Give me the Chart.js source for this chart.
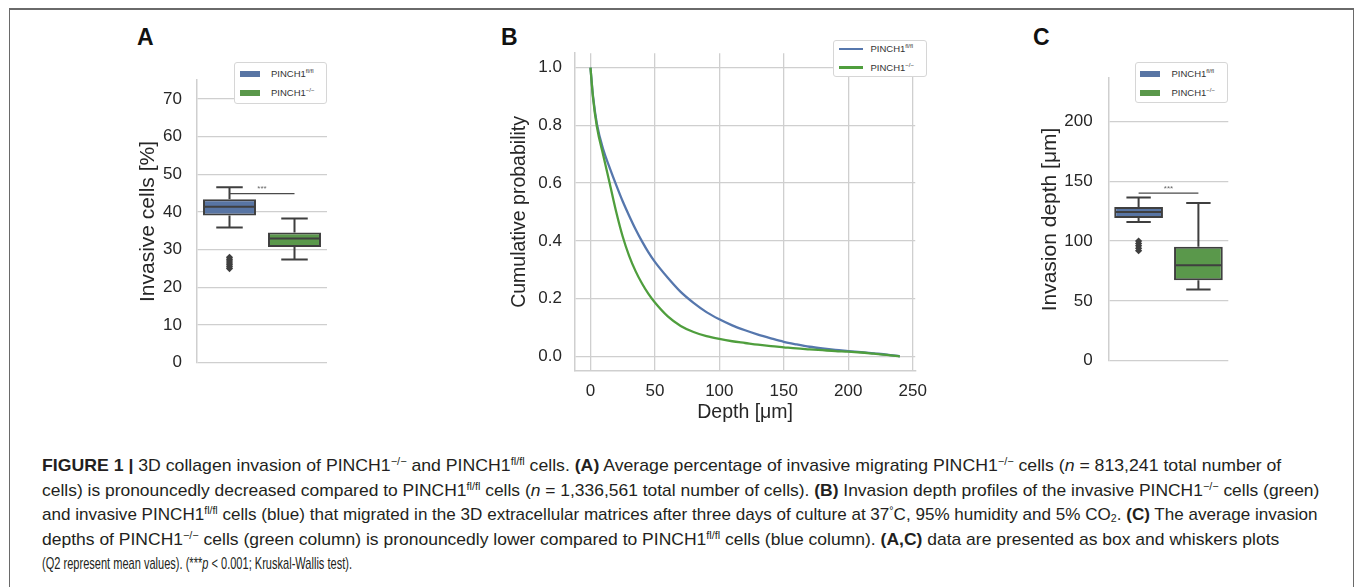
<!DOCTYPE html>
<html>
<head>
<meta charset="utf-8">
<script src="https://cdn.jsdelivr.net/npm/chart.js@4.4.0/dist/chart.umd.min.js"></script>
<style>
html,body{margin:0;padding:0;background:#fff;width:1355px;height:587px;overflow:hidden;font-family:"Liberation Sans",Arial,sans-serif;}
.frame{position:absolute;left:9px;top:8px;width:1345px;height:620px;border-top:2px solid #6a6a6a;border-left:1.5px solid #6a6a6a;border-right:1.5px solid #6a6a6a;box-sizing:border-box;}
canvas{position:absolute;}
.letter{position:absolute;font-weight:bold;font-size:23px;line-height:23px;color:#111;}
.legend{position:absolute;border:1px solid #d6d6d6;border-radius:3px;background:#fff;box-sizing:border-box;}
.legend .patch{position:absolute;width:20px;height:6px;}
.legend .ln{position:absolute;width:24px;height:2.3px;}
.legend .txt{position:absolute;font-size:9.5px;line-height:12px;color:#333;white-space:nowrap;}
.legend sup{font-size:6px;vertical-align:4px;line-height:0;}
.cap{position:absolute;left:42px;font-family:"Liberation Sans",Arial,sans-serif;font-size:17px;line-height:20px;color:#231f20;white-space:nowrap;transform-origin:0 50%;}
.cap sup{font-size:0.62em;vertical-align:0.55em;line-height:0;}
.cap sub{font-size:0.62em;vertical-align:-0.2em;line-height:0;}
</style>
</head>
<body>
<div class="frame"></div>
<div class="letter" style="left:137px;top:26px;">A</div>
<div class="letter" style="left:501px;top:26px;">B</div>
<div class="letter" style="left:1033px;top:26px;">C</div>

<canvas id="chartA" width="220" height="333" style="left:120px;top:55px;width:220px;height:333px;"></canvas>
<canvas id="chartB" width="437" height="404" style="left:500px;top:30px;width:437px;height:404px;"></canvas>
<canvas id="chartC" width="215" height="335" style="left:1025px;top:52px;width:215px;height:335px;"></canvas>

<div id="legA" class="legend" style="left:234px;top:62px;width:93px;height:42px;"></div>
<div id="legB" class="legend" style="left:833px;top:40px;width:94px;height:37px;"></div>
<div id="legC" class="legend" style="left:1135px;top:62px;width:93px;height:41px;"></div>

<div class="cap" style="top:456px;"><b>FIGURE 1 |</b> 3D collagen invasion of PINCH1<sup>−/−</sup> and PINCH1<sup>fl/fl</sup> cells. <b>(A)</b> Average percentage of invasive migrating PINCH1<sup>−/−</sup> cells (<i>n</i> = 813,241 total number of</div>
<div class="cap" style="top:481px;">cells) is pronouncedly decreased compared to PINCH1<sup>fl/fl</sup> cells (<i>n</i> = 1,336,561 total number of cells). <b>(B)</b> Invasion depth profiles of the invasive PINCH1<sup>−/−</sup> cells (green)</div>
<div class="cap" style="top:505px;">and invasive PINCH1<sup>fl/fl</sup> cells (blue) that migrated in the 3D extracellular matrices after three days of culture at 37<sup>°</sup>C, 95% humidity and 5% CO<sub>2</sub>. <b>(C)</b> The average invasion</div>
<div class="cap" style="top:530px;">depths of PINCH1<sup>−/−</sup> cells (green column) is pronouncedly lower compared to PINCH1<sup>fl/fl</sup> cells (blue column). <b>(A,C)</b> data are presented as box and whiskers plots</div>
<div class="cap" style="top:554px;">(Q2 represent mean values). (***<i>p</i> &lt; 0.001; Kruskal-Wallis test).</div>

<script>
// ---------- DATA ----------
const groups = ['PINCH1fl/fl', 'PINCH1−/−'];
const groupBase = ['PINCH1', 'PINCH1'];
const groupSup = ['fl/fl', '−/−'];

// Panel A: invasive cells [%]
const invLow    = [35.9, 27.4];
const invQ1     = [39.1, 30.7];
const invMedian = [41.4, 33.0];
const invQ3     = [43.4, 34.6];
const invHigh   = [46.6, 38.3];
const invOutliersFl = [25.0, 25.5, 26.0, 26.5, 27.0, 27.5, 28.0];
const invOutliersKo = [];
const invSig = 44.9;
const invTicks = [0, 10, 20, 30, 40, 50, 60, 70];

// Panel B: cumulative probability vs depth [µm]
const depth   = [0, 2, 5, 10, 15, 20, 25, 30, 35, 40, 45, 50, 60, 70, 80, 90, 100, 110, 120, 130, 140, 150, 160, 170, 180, 190, 200, 210, 220, 230, 240];
const cumFl   = [1.0, 0.90, 0.805, 0.715, 0.652, 0.593, 0.537, 0.487, 0.44, 0.398, 0.36, 0.327, 0.272, 0.223, 0.185, 0.153, 0.128, 0.107, 0.09, 0.075, 0.062, 0.05, 0.041, 0.033, 0.027, 0.022, 0.018, 0.014, 0.01, 0.006, 0.0];
const cumKo   = [1.0, 0.895, 0.795, 0.695, 0.598, 0.50, 0.415, 0.348, 0.295, 0.252, 0.216, 0.186, 0.138, 0.105, 0.084, 0.07, 0.06, 0.052, 0.046, 0.04, 0.035, 0.031, 0.027, 0.024, 0.021, 0.018, 0.016, 0.013, 0.009, 0.005, 0.0];
const depthTicks = [0, 50, 100, 150, 200, 250];
const probTicks  = [0, 0.2, 0.4, 0.6, 0.8, 1.0];

// Panel C: invasion depth [µm]
const depLow    = [116.0, 59.6];
const depQ1     = [119.3, 67.2];
const depMedian = [124.2, 79.8];
const depQ3     = [128.4, 95.2];
const depHigh   = [136.3, 131.7];
const depOutliersFl = [92, 94, 96, 98, 100];
const depOutliersKo = [];
const depSig = 140;
const depTicks = [0, 50, 100, 150, 200];

// ---------- STYLE ----------
const BLUE_BOX = '#5875a4', GREEN_BOX = '#5a984b';
const BLUE_LINE = '#5677ad', GREEN_LINE = '#4f9e3d';
const EDGE = '#3f3f3f', GRID = '#cfcfcf', TXT = '#262626';
Chart.defaults.font.family = '"Liberation Sans", Arial, sans-serif';
Chart.defaults.color = TXT;

function boxPlugin(stats) {
  return {
    id: 'boxParts',
    afterDatasetsDraw(chart) {
      const ctx = chart.ctx, ys = chart.scales.y;
      const p = v => ys.getPixelForValue(v);
      const centers = [];
      ctx.save();
      ctx.strokeStyle = EDGE; ctx.lineWidth = 2; ctx.lineCap = 'butt';
      for (let i = 0; i < stats.q1.length; i++) {
        const el = chart.getDatasetMeta(i).data[i];
        const x = el.x, w = el.width;
        centers.push(x);
        ctx.beginPath();
        ctx.moveTo(x, p(stats.q3[i])); ctx.lineTo(x, p(stats.high[i]));
        ctx.moveTo(x, p(stats.q1[i])); ctx.lineTo(x, p(stats.low[i]));
        ctx.moveTo(x - w / 4, p(stats.high[i])); ctx.lineTo(x + w / 4, p(stats.high[i]));
        ctx.moveTo(x - w / 4, p(stats.low[i])); ctx.lineTo(x + w / 4, p(stats.low[i]));
        ctx.moveTo(x - w / 2 + 1, p(stats.med[i])); ctx.lineTo(x + w / 2 - 1, p(stats.med[i]));
        ctx.stroke();
      }
      const sy = p(stats.sig);
      ctx.lineWidth = 1.2; ctx.strokeStyle = '#4a4a4a';
      ctx.beginPath(); ctx.moveTo(centers[0], sy); ctx.lineTo(centers[1], sy); ctx.stroke();
      ctx.fillStyle = '#666'; ctx.font = '8px "Liberation Sans", Arial'; ctx.textAlign = 'center'; ctx.textBaseline = 'bottom';
      ctx.fillText('***', (centers[0] + centers[1]) / 2, sy - 0.5);
      ctx.restore();
    }
  };
}

function boxChart(id, st, cfg) {
  const boxDs = (i, color) => ({
    type: 'bar', label: groups[i],
    data: groups.map((g, j) => j === i ? [st.q1[j], st.q3[j]] : null),
    backgroundColor: color, borderColor: EDGE, borderWidth: 2, borderSkipped: false,
    grouped: false, barPercentage: 0.815, categoryPercentage: 1, order: 2
  });
  const outDs = (i, vals) => ({
    type: 'line', label: groups[i] + ' outliers', showLine: false,
    data: vals.map(v => ({ x: groups[i], y: v })),
    pointStyle: 'rectRot', pointRadius: 3.6, backgroundColor: EDGE, borderColor: EDGE, borderWidth: 0, order: 0
  });
  return new Chart(document.getElementById(id), {
    type: 'bar',
    data: { labels: groups, datasets: [boxDs(0, BLUE_BOX), boxDs(1, GREEN_BOX), outDs(0, st.outFl), outDs(1, st.outKo)] },
    options: {
      responsive: false, animation: false, events: [],
      layout: { padding: cfg.pad },
      plugins: { legend: { display: false }, tooltip: { enabled: false } },
      scales: {
        x: { type: 'category', display: false, offset: true },
        y: {
          min: cfg.min, max: cfg.max,
          afterBuildTicks: s => { s.ticks = cfg.ticks.map(v => ({ value: v })); },
          afterFit: s => { s.width = cfg.yWidth; },
          grid: { color: GRID, lineWidth: 1.3, drawTicks: false },
          border: { color: GRID, width: 1.5 },
          ticks: { padding: cfg.tickPad, color: TXT, font: { size: 17 } },
          title: { display: true, text: cfg.title, color: TXT, font: { size: 21 }, padding: { top: 4, bottom: 4 } }
        }
      }
    },
    plugins: [boxPlugin(st)]
  });
}

boxChart('chartA',
  { low: invLow, q1: invQ1, med: invMedian, q3: invQ3, high: invHigh, outFl: invOutliersFl, outKo: invOutliersKo, sig: invSig },
  { pad: { left: 11.4, right: 13, top: 17, bottom: 15 }, yWidth: 65.6, min: 0, max: 75, ticks: invTicks, tickPad: 15, title: 'Invasive cells [%]' });

boxChart('chartC',
  { low: depLow, q1: depQ1, med: depMedian, q3: depQ3, high: depHigh, outFl: depOutliersFl, outKo: depOutliersKo, sig: depSig },
  { pad: { left: 8.4, right: 11.7, top: 18, bottom: 15.3 }, yWidth: 75.3, min: 0, max: 236, ticks: depTicks, tickPad: 16, title: 'Invasion depth [μm]' });

new Chart(document.getElementById('chartB'), {
  type: 'line',
  data: {
    datasets: [
      { label: groups[0], data: depth.map((d, i) => ({ x: d, y: cumFl[i] })), borderColor: BLUE_LINE, borderWidth: 2.3, pointRadius: 0, cubicInterpolationMode: 'monotone', fill: false, order: 1 },
      { label: groups[1], data: depth.map((d, i) => ({ x: d, y: cumKo[i] })), borderColor: GREEN_LINE, borderWidth: 2.3, pointRadius: 0, cubicInterpolationMode: 'monotone', fill: false, order: 0 }
    ]
  },
  options: {
    responsive: false, animation: false, events: [],
    layout: { padding: { left: 4.3, right: 20.3, top: 16.5, bottom: 5.3 } },
    plugins: { legend: { display: false }, tooltip: { enabled: false } },
    scales: {
      x: {
        type: 'linear', min: -12, max: 252,
        afterBuildTicks: s => { s.ticks = depthTicks.map(v => ({ value: v })); },
        afterFit: s => { s.height = 58; },
        grid: { color: GRID, lineWidth: 1.3, drawTicks: false },
        border: { color: GRID, width: 1.5 },
        ticks: { padding: 10, color: TXT, font: { size: 17 } },
        title: { display: true, text: 'Depth [μm]', color: TXT, font: { size: 19.5 }, padding: { top: 4, bottom: 4 } }
      },
      y: {
        min: -0.05, max: 1.05,
        afterBuildTicks: s => { s.ticks = probTicks.map(v => ({ value: v })); },
        afterFit: s => { s.width = 70.7; },
        grid: { color: GRID, lineWidth: 1.3, drawTicks: false },
        border: { color: GRID, width: 1.5 },
        ticks: { padding: 13, color: TXT, font: { size: 17 }, callback: v => Number(v).toFixed(1) },
        title: { display: true, text: 'Cumulative probability', color: TXT, font: { size: 19.5 }, padding: { top: 4, bottom: 4 } }
      }
    }
  }
});

// ---------- LEGENDS (HTML text) ----------
function boxLegend(id, colors, patchL, patchT, textL) {
  const el = document.getElementById(id);
  groups.forEach((g, i) => {
    const pt = patchT[i];
    el.insertAdjacentHTML('beforeend',
      `<div class="patch" style="left:${patchL}px;top:${pt}px;background:${colors[i]}"></div>` +
      `<div class="txt" style="left:${textL}px;top:${pt + 3 - 6}px">${groupBase[i]}<sup>${groupSup[i]}</sup></div>`);
  });
}
boxLegend('legA', [BLUE_BOX, GREEN_BOX], 5, [8, 27], 36);
boxLegend('legC', [BLUE_BOX, GREEN_BOX], 4, [8, 27], 35.5);
(function () {
  const el = document.getElementById('legB');
  const cols = [BLUE_LINE, GREEN_LINE], ys = [8.3, 26.5];
  groups.forEach((g, i) => {
    el.insertAdjacentHTML('beforeend',
      `<div class="ln" style="left:4.5px;top:${ys[i] - 1.1}px;background:${cols[i]}"></div>` +
      `<div class="txt" style="left:36.5px;top:${ys[i] - 6}px">${groupBase[i]}<sup>${groupSup[i]}</sup></div>`);
  });
})();

// ---------- CAPTION line fitting ----------
const capEnds = [1281, 1319, 1318, 1279, 352];
document.querySelectorAll('.cap').forEach((c, i) => {
  const w = c.scrollWidth;
  const target = capEnds[i] - 42;
  c.style.transform = `scaleX(${target / w})`;
});
</script>
</body>
</html>
